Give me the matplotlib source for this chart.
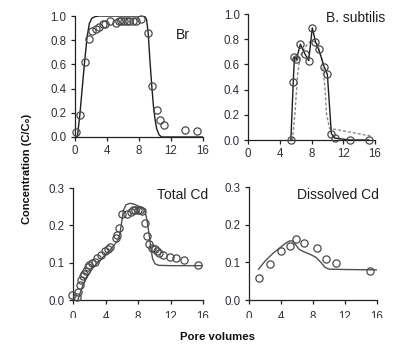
import matplotlib
matplotlib.use("Agg")
import matplotlib.pyplot as plt
from matplotlib.patches import Rectangle

plt.rcParams['font.family'] = ['Liberation Sans', 'DejaVu Sans']

# ---- Br ----
br_obs_x = [0.1, 0.6, 1.2, 1.7, 2.1, 2.6, 3.0, 3.5, 3.75, 4.4, 5.1, 5.5, 5.8, 6.1, 6.5,
            6.8, 7.2, 7.6, 8.3, 9.15, 9.6, 10.2, 10.6, 11.1, 13.75, 15.2]
br_obs_y = [0.04, 0.18, 0.62, 0.81, 0.875, 0.89, 0.91, 0.93, 0.93, 0.955, 0.945, 0.955, 0.955,
            0.955, 0.955, 0.955, 0.955, 0.955, 0.975, 0.86, 0.42, 0.22, 0.14, 0.10, 0.058, 0.05]
br_mod_x = [0.0, 0.3, 0.6, 0.9, 1.2, 1.5, 1.8, 2.1, 2.5, 3.0, 8.7, 8.95, 9.15, 9.35, 9.6,
            9.8, 10.0, 10.2, 10.5, 10.8, 16.0]
br_mod_y = [0.0, 0.0, 0.18, 0.40, 0.62, 0.82, 0.94, 0.98, 0.995, 1.0, 1.0, 0.97, 0.86, 0.65,
            0.42, 0.26, 0.15, 0.07, 0.02, 0.0, 0.0]

# ---- B. subtilis ----
bs_obs_x = [5.4, 5.7, 5.85, 6.1, 6.6, 7.2, 7.65, 8.1, 8.5, 8.9, 9.6, 10.0, 10.5, 10.95, 12.8, 15.2]
bs_obs_y = [0.0, 0.46, 0.66, 0.64, 0.76, 0.68, 0.63, 0.89, 0.78, 0.72, 0.58, 0.52, 0.05, 0.015,
            0.0, 0.0]
bs_mod_x = [5.6, 5.9, 6.25, 6.55, 7.2, 8.0, 8.65, 9.3, 9.7, 9.9, 10.3, 10.9, 13.5, 15.6]
bs_mod_y = [0.0, 0.20, 0.52, 0.66, 0.74, 0.79, 0.77, 0.65, 0.41, 0.20, 0.09, 0.085, 0.055, 0.03]

# ---- Total Cd ----
tc_obs_x = [-0.08, 0.45, 0.67, 0.8, 1.0, 1.2, 1.4, 1.6, 1.8, 2.0, 2.3, 2.7, 3.0, 3.5, 3.9, 4.3,
            4.6, 5.25, 5.45, 5.6, 6.0, 6.7, 7.1, 7.4, 7.6, 8.0, 8.3, 8.5, 8.9, 9.1, 9.4, 9.75,
            10.05, 10.3, 10.6, 11.1, 11.9, 12.7, 13.6, 15.4]
tc_obs_y = [0.013, 0.009, 0.022, 0.04, 0.054, 0.063, 0.071, 0.079, 0.089, 0.094, 0.098, 0.103,
            0.112, 0.12, 0.13, 0.136, 0.143, 0.165, 0.174, 0.192, 0.23, 0.23, 0.237, 0.24, 0.24,
            0.24, 0.24, 0.238, 0.205, 0.171, 0.149, 0.14, 0.136, 0.13, 0.125, 0.12, 0.116,
            0.112, 0.107, 0.094]
tc_mod_x = [0.6, 0.9, 1.3, 1.8, 2.3, 2.9, 3.4, 4.0, 4.5, 5.0, 5.5, 5.75, 6.0, 6.2, 6.5, 7.0,
            7.5, 8.0, 8.5, 8.8, 9.1, 9.4, 9.6, 9.8, 10.1, 10.5, 12.0, 16.0]
tc_mod_y = [0.0, 0.02, 0.045, 0.065, 0.082, 0.097, 0.108, 0.122, 0.133, 0.145, 0.16, 0.175,
            0.21, 0.24, 0.255, 0.259, 0.257, 0.252, 0.248, 0.243, 0.215, 0.17, 0.135, 0.11,
            0.097, 0.093, 0.092, 0.092]

# ---- Dissolved Cd ----
dc_obs_x = [1.3, 2.65, 4.03, 5.08, 5.92, 6.9, 8.5, 9.65, 10.96, 15.2]
dc_obs_y = [0.058, 0.095, 0.131, 0.143, 0.161, 0.152, 0.137, 0.108, 0.097, 0.078]
dc_mod_x = [1.2, 2.0, 3.0, 4.0, 4.6, 5.1, 5.4, 5.8, 6.3, 7.0, 7.8, 8.4, 9.0, 9.5, 10.0, 12.0, 16.0]
dc_mod_y = [0.082, 0.103, 0.124, 0.141, 0.151, 0.157, 0.157, 0.148, 0.134, 0.127, 0.12, 0.113,
            0.1, 0.087, 0.082, 0.081, 0.08]

x_ticks = [0, 4, 8, 12, 16]
top_yticks = [0.0, 0.2, 0.4, 0.6, 0.8, 1.0]
bot_yticks = [0.0, 0.1, 0.2, 0.3]

tick_color = '#30303a'
mk_color = '#4a4a4a'

fig = plt.figure(figsize=(3.97, 3.45), dpi=100)
fig.patch.set_facecolor('white')

ax1 = fig.add_axes([0.1889, 0.6029, 0.3224, 0.3507])
ax2 = fig.add_axes([0.6247, 0.5942, 0.3199, 0.3652])
ax3 = fig.add_axes([0.1839, 0.1304, 0.3275, 0.3246])
ax4 = fig.add_axes([0.6272, 0.1304, 0.3217, 0.3275])


def style(ax, yticks, yfmt, xpad=3):
    ax.set_xlim(0, 16)
    ax.set_ylim(yticks[0], yticks[-1])
    ax.set_xticks(x_ticks)
    ax.set_yticks(yticks)
    ax.set_yticklabels([yfmt.format(v) for v in yticks])
    for s in ('top', 'right'):
        ax.spines[s].set_visible(False)
    for s in ('left', 'bottom'):
        ax.spines[s].set_color('#222222')
        ax.spines[s].set_linewidth(0.9)
    ax.tick_params(direction='out', length=3, width=0.9, color='#222222',
                   labelsize=8.3, labelcolor=tick_color, pad=3)
    ax.tick_params(axis='x', pad=xpad)
    ax.set_facecolor('none')


mk = dict(marker='o', linestyle='none', markersize=5.2, markerfacecolor='none',
          markeredgecolor=mk_color, markeredgewidth=0.9, clip_on=False, zorder=3)

# Br
ax1.plot(br_mod_x, br_mod_y, color='#1e1e1e', lw=1.0, zorder=2)
ax1.plot(br_obs_x, br_obs_y, **mk)
style(ax1, top_yticks, '{:.1f}')
ax1.text(13.5, 0.84, 'Br', fontsize=10, ha='center', va='center', color='#1e1e1e')

# B. subtilis
ax2.plot(bs_mod_x, bs_mod_y, color='#8a8a8a', lw=1.0, ls=(0, (2.2, 1.4)), zorder=2)
ax2.plot(bs_obs_x, bs_obs_y, color='#1e1e1e', lw=1.0, zorder=2)
ax2.plot(bs_obs_x, bs_obs_y, **mk)
style(ax2, top_yticks, '{:.1f}')
ax2.text(13.5, 0.97, 'B. subtilis', fontsize=10, ha='center', va='center', color='#1e1e1e')

# Total Cd
ax3.plot(tc_mod_x, tc_mod_y, color='#505050', lw=1.0, zorder=2)
ax3.plot(tc_obs_x, tc_obs_y, **mk)
style(ax3, bot_yticks, '{:.1f}', xpad=5)
ax3.text(13.5, 0.281, 'Total Cd', fontsize=10, ha='center', va='center', color='#1e1e1e')

# Dissolved Cd
ax4.plot(dc_mod_x, dc_mod_y, color='#505050', lw=1.0, zorder=2)
ax4.plot(dc_obs_x, dc_obs_y, **mk)
style(ax4, bot_yticks, '{:.1f}', xpad=5)
ax4.text(11.15, 0.279, 'Dissolved Cd', fontsize=10, ha='center', va='center', color='#1e1e1e')

# white band over the lower half of the bottom tick labels
fig.add_artist(Rectangle((0.1, 0.045), 0.9, 0.033, transform=fig.transFigure,
                         facecolor='white', edgecolor='none', zorder=10))

fig.text(0.068, 0.51, 'Concentration (C/C\u2080)', rotation=90, ha='center', va='center',
         fontsize=8, fontweight='bold', color='#111111')
fig.text(0.549, 0.022, 'Pore volumes', ha='center', va='center',
         fontsize=8.2, fontweight='bold', color='#111111', zorder=11)

fig.savefig('out.png', dpi=100, facecolor='white')
